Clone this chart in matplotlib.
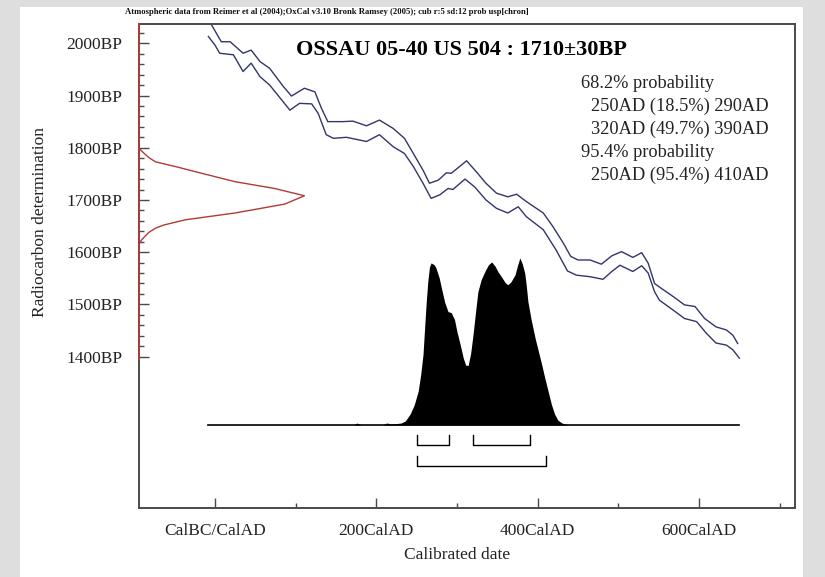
"""
OxCal style calibration plot for OSSAU 05-40 US 504 (1710 +/- 30 BP)
"""
from matplotlib import pyplot as plt
from matplotlib.patches import Rectangle
from matplotlib.ticker import FixedLocator
import numpy as np

plt.rcParams['font.family'] = ['Liberation Serif', 'DejaVu Serif']

W, H = 825, 577

# calibration curve, upper and lower envelope (cal AD, BP)
upper_year = [-4, 8, 19, 35, 45, 56, 68, 85, 95, 111, 124, 132, 140, 159, 171, 188,
              204, 221, 235, 246, 258, 266, 277, 287, 293, 312, 324, 336, 349, 363,
              374, 386, 407, 419, 432, 441, 450, 465, 479, 492, 504, 518, 529, 537,
              545, 553, 568, 582, 595, 607, 621, 634, 642, 648]
upper_bp = [2035, 2003, 2003, 1981, 1987, 1965, 1952, 1917, 1899, 1914, 1907, 1876, 1850,
            1850, 1851, 1842, 1853, 1837, 1818, 1789, 1757, 1732, 1738, 1752, 1751, 1775,
            1754, 1732, 1713, 1706, 1711, 1697, 1675, 1649, 1617, 1592, 1585, 1585, 1577,
            1593, 1601, 1590, 1599, 1579, 1540, 1531, 1515, 1499, 1496, 1473, 1457, 1451,
            1441, 1425]
lower_year = [-8, 0, 6, 23, 35, 45, 56, 68, 93, 105, 120, 128, 138, 147, 163, 188, 204,
              221, 235, 246, 258, 268, 279, 289, 295, 310, 322, 336, 349, 363, 376, 386,
              407, 423, 437, 448, 465, 481, 492, 502, 518, 529, 537, 545, 551, 568, 582,
              597, 609, 621, 634, 642, 650]
lower_bp = [2013, 1997, 1981, 1978, 1946, 1962, 1936, 1920, 1872, 1885, 1884, 1866, 1825,
            1818, 1820, 1812, 1825, 1802, 1789, 1764, 1732, 1703, 1710, 1722, 1720, 1740,
            1725, 1700, 1684, 1675, 1687, 1668, 1643, 1604, 1564, 1556, 1553, 1548, 1563,
            1575, 1563, 1574, 1560, 1524, 1508, 1489, 1473, 1467, 1445, 1426, 1422, 1413,
            1397]

# radiocarbon measurement (BP, relative probability)
red_bp = [1800, 1795, 1788, 1780, 1773, 1764, 1751, 1735, 1722, 1708, 1692, 1675, 1662,
          1652, 1646, 1638, 1630, 1622, 1615]
red_rel = [0.0, 0.012, 0.035, 0.065, 0.10, 0.22, 0.38, 0.58, 0.82, 1.0, 0.88, 0.58, 0.28,
           0.15, 0.10, 0.06, 0.035, 0.012, 0.0]

# calibrated distribution (cal AD, relative probability)
dist_year = [150, 172, 176, 181, 208, 213, 218, 226, 231, 236, 242, 247, 252, 255, 258,
             260, 262, 264, 266, 268, 270, 272, 274, 278, 281, 285, 289, 293, 297, 300,
             304, 308, 311, 314, 317, 320, 323, 326, 330, 335, 339, 343, 347, 351, 356,
             360, 363, 367, 372, 375, 378, 381, 384, 386, 388, 392, 397, 401, 405, 409,
             413, 417, 421, 425, 430, 438, 460]
dist_prob = [0, 0, 2, 0, 0, 2, 1, 1.5, 2, 4, 11, 20, 34, 50, 71, 98, 124, 145, 159, 163,
             162, 161, 158, 148, 137, 123, 114, 113, 106, 94, 81, 67, 60, 60, 72, 91, 113,
             134, 146, 155, 161, 164, 160, 154, 148, 143, 141, 144, 151, 160, 168, 162,
             153, 140, 124, 106, 87, 74, 61, 47, 34, 21, 11, 5, 2, 0, 0]

# ranges from the text
ranges_68 = [(250, 290), (320, 390)]
ranges_95 = [(250, 410)]

x_major = [0, 200, 400, 600]
x_major_labels = ["CalBC/CalAD", "200CalAD", "400CalAD", "600CalAD"]
x_minor = [100, 300, 500, 700]
y_major = [1400, 1500, 1600, 1700, 1800, 1900, 2000]
y_major_labels = ["%dBP" % v for v in y_major]
y_minor = [v for v in range(1400, 2040, 20) if v % 100]

result_lines = [
    ("68.2% probability", 0),
    ("250AD (18.5%) 290AD", 1),
    ("320AD (49.7%) 390AD", 1),
    ("95.4% probability", 0),
    ("250AD (95.4%) 410AD", 1),
]

X_LIM = (-94, 719)
Y_LIM = (1110, 2037)
RED_WIDTH = 205.0
DIST_BASE = 1269.0
DIST_HEIGHT = 320.0

BLUE = '#34346e'
RED = '#b03a3a'
FRAME = '#4a4a4a'


def fpos(x, y):
    return x / W, 1 - y / H


def main():
    fig = plt.figure(figsize=(W / 100, H / 100), dpi=100)
    fig.patch.set_facecolor('#dedede')
    fig.patches.append(Rectangle(fpos(20, 577), 783 / W, 570 / H, transform=fig.transFigure,
                                 facecolor='white', edgecolor='none', zorder=-10))

    l, t = fpos(139, 24)
    r, b = fpos(795, 508)
    ax = fig.add_axes([l, b, r - l, t - b])
    ax.set_xlim(*X_LIM)
    ax.set_ylim(*Y_LIM)
    ax.patch.set_alpha(0)

    # calibration curve
    ax.plot(upper_year, upper_bp, color=BLUE, lw=1.0)
    ax.plot(lower_year, lower_bp, color=BLUE, lw=1.0)

    # radiocarbon date on the y axis
    red_x = X_LIM[0] + np.array(red_rel) * RED_WIDTH
    ax.plot(red_x, red_bp, color=RED, lw=1.0, clip_on=False)
    ax.plot([X_LIM[0], X_LIM[0]], [1395, Y_LIM[1]], color=RED, lw=1.4, clip_on=False, zorder=5)

    # calibrated distribution
    prob = np.array(dist_prob, dtype=float)
    prob = prob / prob.max()
    ax.fill_between(dist_year, DIST_BASE, DIST_BASE + prob * DIST_HEIGHT,
                    color='black', lw=0)
    x0 = min(upper_year + lower_year)
    x1 = max(upper_year + lower_year)
    ax.plot([x0, x1], [DIST_BASE, DIST_BASE], color='black', lw=1.2)

    # range brackets
    for ranges, y_bar, y_top in [(ranges_68, 1231, 1250), (ranges_95, 1190, 1209)]:
        for a, c in ranges:
            ax.plot([a, a, c, c], [y_top, y_bar, y_bar, y_top], color='black', lw=1.0)

    # axes styling
    for side, sp in ax.spines.items():
        sp.set_color(FRAME)
        sp.set_linewidth(1.4)
    ax.xaxis.set_major_locator(FixedLocator(x_major))
    ax.xaxis.set_minor_locator(FixedLocator(x_minor))
    ax.set_xticklabels(x_major_labels)
    ax.yaxis.set_major_locator(FixedLocator(y_major))
    ax.yaxis.set_minor_locator(FixedLocator(y_minor))
    ax.set_yticklabels(y_major_labels)
    ax.tick_params(which='both', direction='in', color=FRAME, width=1.0, labelsize=12.5,
                   labelcolor='#222222')
    ax.tick_params(which='major', length=7)
    ax.tick_params(which='minor', length=3.6)
    ax.tick_params(axis='x', pad=11)
    ax.tick_params(axis='y', pad=12)

    # texts
    fig.text(*fpos(125, 12), "Atmospheric data from Reimer et al (2004);OxCal v3.10 Bronk Ramsey "
             "(2005); cub r:5 sd:12 prob usp[chron]", fontsize=6.2, fontweight='bold',
             ha='left', va='center', color='#111111')
    fig.text(*fpos(461, 50), "OSSAU 05-40 US 504 : 1710\u00b130BP", fontsize=16,
             fontweight='bold', ha='center', va='center')
    for i, (txt, indent) in enumerate(result_lines):
        fig.text(*fpos(581 + 10 * indent, 83 + 23.1 * i), txt, fontsize=13.2,
                 ha='left', va='center', color='#222222')
    fig.text(*fpos(457, 555), "Calibrated date", fontsize=12.5, ha='center', va='center',
             color='#222222')
    fig.text(*fpos(40, 222), "Radiocarbon determination", fontsize=12.5, rotation=90,
             ha='center', va='center', color='#222222')

    fig.savefig('out.png', dpi=100, facecolor=fig.get_facecolor())


if __name__ == "__main__":
    main()
